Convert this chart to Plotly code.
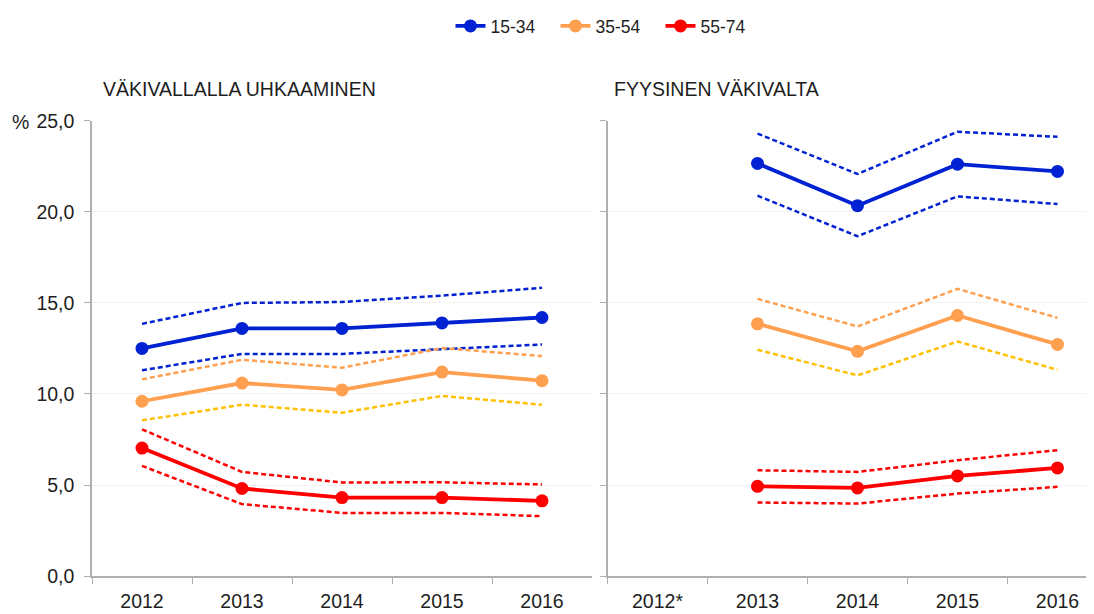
import plotly.graph_objects as go

years_left = ["2012", "2013", "2014", "2015", "2016"]
years_right = ["2012*", "2013", "2014", "2015", "2016"]
years_right_data = ["2013", "2014", "2015", "2016"]

groups = ["15-34", "35-54", "55-74"]

# Left panel: VÄKIVALLALLA UHKAAMINEN
l_1534 = [12.5, 13.6, 13.6, 13.9, 14.2]
l_1534_hi = [13.85, 15.0, 15.05, 15.4, 15.83]
l_1534_lo = [11.3, 12.2, 12.2, 12.48, 12.72]
l_3554 = [9.6, 10.6, 10.22, 11.2, 10.73]
l_3554_hi = [10.8, 11.88, 11.44, 12.52, 12.08]
l_3554_lo = [8.55, 9.41, 8.97, 9.89, 9.41]
l_5574 = [7.03, 4.81, 4.31, 4.31, 4.13]
l_5574_hi = [8.06, 5.72, 5.14, 5.15, 5.03]
l_5574_lo = [6.05, 3.95, 3.47, 3.47, 3.29]

# Right panel: FYYSINEN VÄKIVALTA (no 2012 data)
r_1534 = [22.66, 20.34, 22.62, 22.22]
r_1534_hi = [24.3, 22.08, 24.4, 24.12]
r_1534_lo = [20.89, 18.66, 20.85, 20.43]
r_3554 = [13.85, 12.34, 14.31, 12.72]
r_3554_hi = [15.22, 13.71, 15.77, 14.18]
r_3554_lo = [12.43, 11.02, 12.88, 11.33]
r_5574 = [4.93, 4.84, 5.5, 5.94]
r_5574_hi = [5.81, 5.72, 6.36, 6.91]
r_5574_lo = [4.04, 3.98, 4.53, 4.9]

y_ticks = [0, 5, 10, 15, 20, 25]
y_tick_text = ["0,0", "5,0", "10,0", "15,0", "20,0", "25,0"]

BLUE = "#0022D2"
ORANGE = "#FF9F50"
RED = "#FF0000"
YELLOW = "#FFC000"
AXIS = "#B0B0B0"
TEXT = "#1E1E1E"
FONT = "Liberation Sans, Arial, sans-serif"
FS = 19.5

fig = go.Figure()

def solid(x, y, color, name, xa, ya, show):
    fig.add_trace(go.Scatter(
        x=x, y=y, mode="lines+markers", name=name, legendgroup=name,
        showlegend=show, xaxis=xa, yaxis=ya,
        line=dict(color=color, width=3.8),
        marker=dict(color=color, size=13),
        cliponaxis=False,
    ))

def dashed(x, y, color, name, xa, ya):
    fig.add_trace(go.Scatter(
        x=x, y=y, mode="lines", legendgroup=name, showlegend=False,
        xaxis=xa, yaxis=ya, hoverinfo="skip",
        line=dict(color=color, width=2.5, dash="5px,3px"),
    ))

# Left panel
dashed(years_left, l_1534_hi, BLUE, groups[0], "x", "y")
dashed(years_left, l_1534_lo, BLUE, groups[0], "x", "y")
dashed(years_left, l_3554_hi, ORANGE, groups[1], "x", "y")
dashed(years_left, l_3554_lo, YELLOW, groups[1], "x", "y")
dashed(years_left, l_5574_hi, RED, groups[2], "x", "y")
dashed(years_left, l_5574_lo, RED, groups[2], "x", "y")
solid(years_left, l_1534, BLUE, groups[0], "x", "y", True)
solid(years_left, l_3554, ORANGE, groups[1], "x", "y", True)
solid(years_left, l_5574, RED, groups[2], "x", "y", True)

# Right panel
dashed(years_right_data, r_1534_hi, BLUE, groups[0], "x2", "y2")
dashed(years_right_data, r_1534_lo, BLUE, groups[0], "x2", "y2")
dashed(years_right_data, r_3554_hi, ORANGE, groups[1], "x2", "y2")
dashed(years_right_data, r_3554_lo, YELLOW, groups[1], "x2", "y2")
dashed(years_right_data, r_5574_hi, RED, groups[2], "x2", "y2")
dashed(years_right_data, r_5574_lo, RED, groups[2], "x2", "y2")
solid(years_right_data, r_1534, BLUE, groups[0], "x2", "y2", False)
solid(years_right_data, r_3554, ORANGE, groups[1], "x2", "y2", False)
solid(years_right_data, r_5574, RED, groups[2], "x2", "y2", False)

# page has an 8px body margin; work in page pixels and convert
OFF = 8
W, H = 1094 - OFF, 614 - OFF

def px(xp):
    return (xp - OFF) / W

def py(yp):
    return (H - (yp - OFF)) / H

y_dom = [py(576), py(120)]

xcommon = dict(
    type="category", categoryorder="array", tickson="boundaries",
    ticks="outside", ticklen=6, tickcolor=AXIS, tickwidth=1,
    showline=True, linecolor=AXIS, linewidth=1.5, showgrid=False,
    zeroline=False, tickfont=dict(size=FS, color=TEXT, family=FONT),
    fixedrange=True, automargin=False, ticklabelstandoff=7,
)
ycommon = dict(
    range=[0, 25], tickvals=y_ticks, ticks="outside", ticklen=6,
    tickcolor=AXIS, tickwidth=1, showline=True, linecolor=AXIS,
    linewidth=1.5, showgrid=True, gridcolor="#F3F3F3", gridwidth=1,
    zeroline=False, fixedrange=True, automargin=False,
)

fig.update_layout(
    width=W, height=H,
    margin=dict(l=0, r=0, t=0, b=0),
    paper_bgcolor="white", plot_bgcolor="white",
    font=dict(family=FONT, color=TEXT, size=FS),
    xaxis=dict(**xcommon, categoryarray=years_left, range=[-0.5, 4.5],
               domain=[px(92), px(592)], anchor="y"),
    xaxis2=dict(**xcommon, categoryarray=years_right,
                range=[-0.5, -0.5 + (1094 - 607.5) / 100],
                domain=[px(607.5), 1.0], anchor="y2"),
    yaxis=dict(**ycommon, domain=y_dom, anchor="x",
               ticktext=y_tick_text, showticklabels=True,
               tickfont=dict(size=FS, color=TEXT, family=FONT),
               ticklabelstandoff=6),
    yaxis2=dict(**ycommon, domain=y_dom, anchor="x2",
                ticktext=y_tick_text, showticklabels=False),
    legend=dict(
        orientation="h", x=px(608), y=py(25), xanchor="center", yanchor="middle",
        font=dict(size=17.5, color=TEXT, family=FONT),
        bgcolor="rgba(0,0,0,0)", traceorder="normal",
        entrywidth=60, entrywidthmode="pixels",
    ),
    showlegend=True,
    annotations=[
        dict(text="VÄKIVALLALLA UHKAAMINEN", x=px(101), y=py(88),
             xref="paper", yref="paper", xanchor="left", yanchor="middle",
             showarrow=False, font=dict(size=FS, color=TEXT, family=FONT)),
        dict(text="FYYSINEN VÄKIVALTA", x=px(612), y=py(88),
             xref="paper", yref="paper", xanchor="left", yanchor="middle",
             showarrow=False, font=dict(size=FS, color=TEXT, family=FONT)),
        dict(text="%", x=px(10), y=py(121),
             xref="paper", yref="paper", xanchor="left", yanchor="middle",
             showarrow=False, font=dict(size=FS, color=TEXT, family=FONT)),
    ],
)

fig.write_html("out.html")
